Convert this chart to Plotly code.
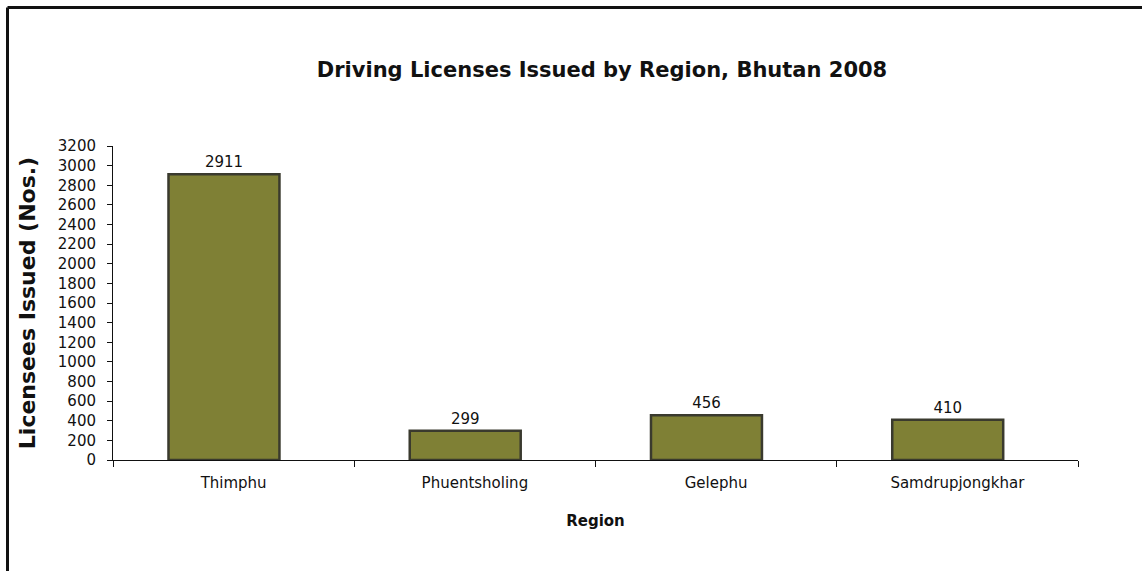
import plotly.graph_objects as go

regions = ['Thimphu', 'Phuentsholing', 'Gelephu', 'Samdrupjongkhar']
licenses = [2911, 299, 456, 410]
y_ticks = list(range(0, 3201, 200))

W, H = 1142, 571
ML, MR, MT, MB = 113, 64, 146, 111
pw, ph = W - ML - MR, H - MT - MB

fig = go.Figure()

fig.add_trace(go.Bar(
    x=regions,
    y=licenses,
    width=0.46,
    offset=-0.27,
    marker=dict(color='#7f8035', line=dict(color='#3a3a2e', width=2.5)),
    text=[str(v) for v in licenses],
    textposition='outside',
    textfont=dict(family='DejaVu Sans', size=15, color='#111111'),
    cliponaxis=False,
))

# frame line along top and left of the image
fx = (7.5 - ML) / pw
fy = 1 + (MT - 7.5) / ph
fig.add_shape(type='line', xref='paper', yref='paper', x0=fx, x1=2, y0=fy, y1=fy,
              line=dict(color='#111111', width=3))
fig.add_shape(type='line', xref='paper', yref='paper', x0=fx, x1=fx, y0=fy, y1=-2,
              line=dict(color='#111111', width=3))

fig.update_layout(
    width=W, height=H,
    margin=dict(l=ML, r=MR, t=MT, b=MB),
    paper_bgcolor='white',
    plot_bgcolor='white',
    showlegend=False,
    font=dict(family='DejaVu Sans', size=15, color='#111111'),
    title=dict(text='<b>Driving Licenses Issued by Region, Bhutan 2008</b>',
               xref='paper', x=(602 - ML) / pw, xanchor='center',
               y=1 - 70 / H, yanchor='middle',
               font=dict(family='DejaVu Sans', size=21, color='#111111')),
    xaxis=dict(
        title=dict(text='<b>Region</b>', standoff=24,
                   font=dict(family='DejaVu Sans', size=15)),
        showline=True, linecolor='#111111', linewidth=1,
        ticks='outside', tickson='boundaries', ticklen=6, tickcolor='#111111',
        ticklabelstandoff=9,
        tickfont=dict(size=15), showgrid=False, automargin=False,
    ),
    yaxis=dict(
        title=dict(text='<b>Licensees Issued (Nos.)</b>', standoff=16,
                   font=dict(family='DejaVu Sans', size=22)),
        range=[0, 3200], tickvals=y_ticks,
        showline=True, linecolor='#111111', linewidth=1,
        ticks='outside', ticklen=5, tickcolor='#111111',
        ticklabelstandoff=8,
        tickfont=dict(size=15), showgrid=False, zeroline=False, automargin=False,
    ),
)

# drop the browser's default body margin so the figure sits at the page corner
fig.write_html('out.html', config={'displayModeBar': False},
               post_script="document.body.style.margin = '0';")
